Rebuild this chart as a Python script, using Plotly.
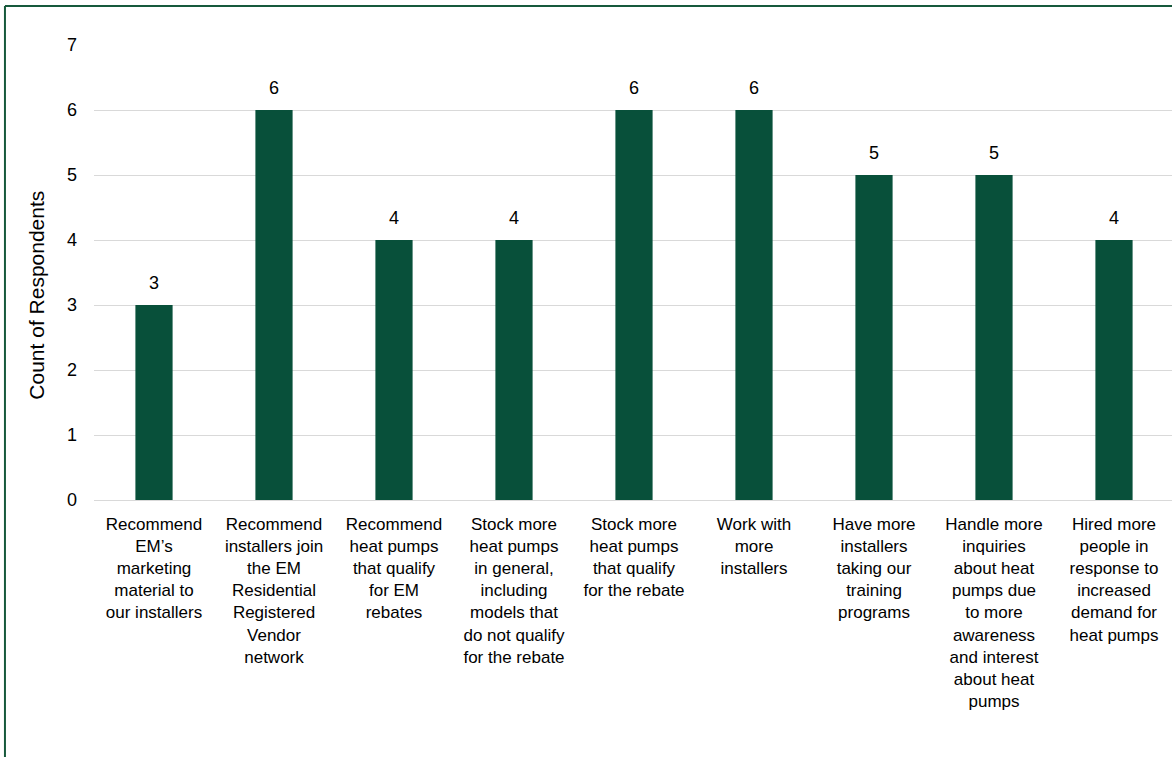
import plotly.graph_objects as go

categories = [
    "Recommend<br>EM’s<br>marketing<br>material to<br>our installers",
    "Recommend<br>installers join<br>the EM<br>Residential<br>Registered<br>Vendor<br>network",
    "Recommend<br>heat pumps<br>that qualify<br>for EM<br>rebates",
    "Stock more<br>heat pumps<br>in general,<br>including<br>models that<br>do not qualify<br>for the rebate",
    "Stock more<br>heat pumps<br>that qualify<br>for the rebate",
    "Work with<br>more<br>installers",
    "Have more<br>installers<br>taking our<br>training<br>programs",
    "Handle more<br>inquiries<br>about heat<br>pumps due<br>to more<br>awareness<br>and interest<br>about heat<br>pumps",
    "Hired more<br>people in<br>response to<br>increased<br>demand for<br>heat pumps",
]
counts = [3, 6, 4, 4, 6, 6, 5, 5, 4]
y_ticks = [0, 1, 2, 3, 4, 5, 6, 7]

FONT = "Liberation Sans, Arial, sans-serif"
BAR = "#08503A"
BORDER = "#17593C"

fig = go.Figure()
fig.add_trace(go.Bar(
    x=list(range(len(categories))),
    y=counts,
    width=0.31,
    marker=dict(color=BAR, line=dict(width=0)),
    showlegend=False,
    hoverinfo="skip",
))

for i, v in enumerate(counts):
    fig.add_annotation(x=i, y=v, text=str(v), showarrow=False,
                       yanchor="bottom", yshift=10,
                       font=dict(family=FONT, size=18, color="#000000"))

fig.add_annotation(text="Count of Respondents", textangle=-90,
                   xref="paper", yref="paper", x=-0.053, y=0.451,
                   xanchor="center", yanchor="middle", showarrow=False,
                   font=dict(family=FONT, size=21, color="#000000"))

# outer border (left and top visible)
fig.add_shape(type="line", xref="paper", yref="paper",
              x0=-0.0826, x1=-0.0826, y0=-0.6, y1=1.0856,
              line=dict(color=BORDER, width=2))
fig.add_shape(type="line", xref="paper", yref="paper",
              x0=-0.0826, x1=1.05, y0=1.0856, y1=1.0856,
              line=dict(color=BORDER, width=2))

fig.update_layout(
    width=1172, height=757,
    margin=dict(l=94, r=0, t=45, b=256.5, autoexpand=False),
    paper_bgcolor="white", plot_bgcolor="white",
    font=dict(family=FONT, size=17, color="#000000"),
    hovermode=False,
)
fig.update_xaxes(
    range=[-0.5, -0.5 + 1078 / 120],
    tickvals=list(range(len(categories))),
    ticktext=categories,
    tickangle=0,
    showgrid=False, showline=False, ticks="",
    tickfont=dict(family=FONT, size=17, color="#000000"),
    ticklabelstandoff=12,
)
fig.update_yaxes(
    range=[0, 7],
    tickvals=y_ticks,
    showgrid=True, gridcolor="#D9D9D9", gridwidth=1,
    zeroline=True, zerolinecolor="#D9D9D9", zerolinewidth=1,
    showline=False, ticks="",
    tickfont=dict(family=FONT, size=18, color="#000000"),
    ticklabelstandoff=16,
)

fig.write_html(
    "out.html",
    config={"displayModeBar": False, "staticPlot": True},
    post_script="document.body.style.margin='0';document.body.style.overflow='hidden';",
)
